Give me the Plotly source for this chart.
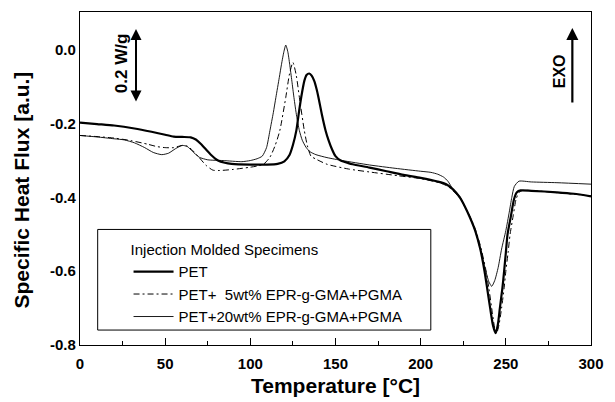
import plotly.graph_objects as go

# ---- data ----
temp_pet = [0, 10, 20, 32, 42, 50, 55, 60, 65, 68, 71, 74, 77, 81, 85, 89, 100, 110, 116, 120,
            123, 125, 127, 128.5, 130, 131.7, 133, 134.6, 136, 137.5, 139, 140, 142, 144.2, 146,
            148, 150, 153, 157, 160, 170, 180, 190, 200, 210, 215, 219, 223, 226, 229, 232, 235,
            237.5, 239, 240.8, 242.5, 244, 245.3, 246.5, 248, 249, 250, 251, 253, 254.8, 256.5,
            258.7, 265, 280, 290, 300]
flux_pet = [-0.197, -0.201, -0.205, -0.213, -0.222, -0.230, -0.235, -0.236, -0.237, -0.243,
            -0.255, -0.270, -0.285, -0.300, -0.306, -0.309, -0.311, -0.311, -0.309, -0.302,
            -0.285, -0.258, -0.219, -0.170, -0.125, -0.084, -0.068, -0.064, -0.070, -0.084,
            -0.108, -0.129, -0.175, -0.219, -0.246, -0.270, -0.288, -0.300, -0.306, -0.310,
            -0.319, -0.329, -0.339, -0.347, -0.357, -0.364, -0.378, -0.400, -0.425, -0.455,
            -0.490, -0.540, -0.600, -0.645, -0.700, -0.748, -0.768, -0.745, -0.700, -0.645,
            -0.600, -0.550, -0.500, -0.450, -0.405, -0.386, -0.381, -0.382, -0.386, -0.390,
            -0.397]

temp_5wt = [0, 10, 20, 30, 40, 45, 50, 55, 60, 63, 66, 70, 74, 78, 82, 90, 100, 105, 108, 111.5,
            114.5, 117.3, 120.8, 123, 125, 127, 128.8, 131.7, 133.5, 135.6, 138.5, 145, 157.7, 170,
            186.5, 200, 211, 216, 219, 223, 226, 229, 232, 235, 238, 240, 242, 243.5, 244.6, 246,
            247.5, 249, 250, 251.3, 252.5, 254.3, 256, 257.8, 260, 270, 280, 290, 300]
flux_5wt = [-0.232, -0.235, -0.239, -0.246, -0.256, -0.262, -0.265, -0.265, -0.259, -0.261,
            -0.272, -0.292, -0.313, -0.326, -0.327, -0.324, -0.318, -0.314, -0.309, -0.291,
            -0.260, -0.219, -0.129, -0.065, -0.034, -0.070, -0.129, -0.219, -0.260, -0.288,
            -0.296, -0.310, -0.323, -0.331, -0.341, -0.349, -0.360, -0.370, -0.382, -0.402,
            -0.425, -0.452, -0.485, -0.530, -0.590, -0.645, -0.710, -0.755, -0.768, -0.745,
            -0.700, -0.645, -0.600, -0.550, -0.500, -0.450, -0.405, -0.386, -0.381, -0.383,
            -0.387, -0.391, -0.396]

temp_20wt = [0, 10, 20, 26, 32, 38, 43, 48, 52, 56, 60, 63, 66, 70, 75, 84, 95, 100, 104, 107,
             109.5, 111.5, 113.5, 115, 117, 118.3, 119.7, 120.8, 122, 123.1, 124.4, 125.6, 127.2,
             128.8, 130.5, 132.7, 135, 138.5, 145, 154, 170, 185, 200, 206, 210, 213.5, 216, 219,
             223, 226, 229, 232, 235, 238, 240, 241.7, 243.5, 245.5, 247.5, 250, 252, 253.5, 255,
             257.7, 265, 280, 300]
flux_20wt = [-0.232, -0.236, -0.241, -0.244, -0.252, -0.265, -0.278, -0.284, -0.280, -0.268,
             -0.259, -0.262, -0.275, -0.291, -0.298, -0.300, -0.303, -0.300, -0.295, -0.288,
             -0.265, -0.219, -0.170, -0.129, -0.075, -0.039, -0.005, 0.013, -0.005, -0.039,
             -0.085, -0.129, -0.180, -0.219, -0.245, -0.264, -0.276, -0.284, -0.292, -0.300,
             -0.312, -0.321, -0.329, -0.332, -0.337, -0.345, -0.356, -0.378, -0.398, -0.425,
             -0.455, -0.490, -0.540, -0.595, -0.628, -0.641, -0.625, -0.590, -0.540, -0.490,
             -0.440, -0.400, -0.370, -0.356, -0.358, -0.360, -0.364]

series_names = ["PET", "PET+\u00a0\u00a05wt% EPR-g-GMA+PGMA", "PET+20wt% EPR-g-GMA+PGMA"]
x_ticks = [0, 50, 100, 150, 200, 250, 300]
y_ticks = [-0.8, -0.6, -0.4, -0.2, 0.0]
y_tick_labels = ["-0.8", "-0.6", "-0.4", "-0.2", "0.0"]

FONT = "Liberation Sans, Arial, sans-serif"

fig = go.Figure()
fig.add_trace(go.Scatter(x=temp_pet, y=flux_pet, mode="lines", name=series_names[0],
                         line=dict(color="black", width=2.2, shape="spline", smoothing=0.6)))
fig.add_trace(go.Scatter(x=temp_5wt, y=flux_5wt, mode="lines", name=series_names[1],
                         line=dict(color="black", width=1, dash="6px,3px,2px,3px",
                                   shape="spline", smoothing=0.6)))
fig.add_trace(go.Scatter(x=temp_20wt, y=flux_20wt, mode="lines", name=series_names[2],
                         line=dict(color="black", width=0.9, shape="spline", smoothing=0.6)))

fig.update_layout(
    width=615, height=402,
    margin=dict(l=80, r=15, t=11, b=57),
    paper_bgcolor="white", plot_bgcolor="white",
    font=dict(family=FONT, color="black"),
    showlegend=True,
    legend=dict(
        x=0.095, y=0.328, xanchor="left", yanchor="top",
        bgcolor="rgba(0,0,0,0)", borderwidth=0,
        font=dict(family=FONT, size=15, color="black"),
        title=dict(text="Injection Molded Specimens", font=dict(family=FONT, size=15)),
        itemwidth=40, tracegroupgap=0,
    ),
    xaxis=dict(
        range=[0, 300], tickvals=x_ticks, ticktext=[str(v) for v in x_ticks],
        ticks="inside", ticklen=7, tickwidth=1.2, tickcolor="black",
        minor=dict(dtick=25, tick0=0, ticks="inside", ticklen=4, tickwidth=1, tickcolor="black"),
        showline=True, linecolor="black", linewidth=1.3, mirror=True,
        showgrid=False, zeroline=False, ticklabelstandoff=5,
        tickfont=dict(family=FONT, size=15, weight="bold", color="black"),
    ),
    yaxis=dict(
        range=[-0.8, 0.1027], tickvals=y_ticks, ticktext=y_tick_labels,
        ticks="", showline=True, linecolor="black", linewidth=1.3, mirror=True,
        showgrid=False, zeroline=False,
        tickfont=dict(family=FONT, size=15, weight="bold", color="black"),
    ),
    shapes=[dict(type="rect", xref="paper", yref="paper", x0=0.0346, x1=0.6865,
                 y0=0.0449, y1=0.347, line=dict(color="black", width=1))],
    annotations=[
        dict(text="Temperature [°C]", xref="paper", yref="paper", x=0.5, y=-0.123,
             xanchor="center", yanchor="middle", showarrow=False,
             font=dict(family=FONT, size=21, weight="bold")),
        dict(text="Specific Heat Flux [a.u.]", xref="paper", yref="paper", x=-0.1154, y=0.464,
             xanchor="center", yanchor="middle", textangle=-90, showarrow=False,
             font=dict(family=FONT, size=21, weight="bold")),
        dict(text="", xref="paper", yref="paper", x=0.1096, y=0.949, ax=0, ay=74,
             showarrow=True, arrowhead=2, startarrowhead=2, arrowside="end+start",
             arrowsize=1.1, startarrowsize=1.1, arrowwidth=2, arrowcolor="black",
             standoff=0, startstandoff=0),
        dict(text="0.2 W/g", xref="paper", yref="paper", x=0.0827, y=0.847,
             xanchor="center", yanchor="middle", textangle=-90, showarrow=False,
             font=dict(family=FONT, size=17, weight="bold")),
        dict(text="", xref="paper", yref="paper", x=0.9635, y=0.952, ax=0, ay=76,
             showarrow=True, arrowhead=2, arrowsize=1.1, arrowwidth=2.2, arrowcolor="black",
             standoff=0),
        dict(text="EXO", xref="paper", yref="paper", x=0.940, y=0.823,
             xanchor="center", yanchor="middle", textangle=-90, showarrow=False,
             font=dict(family=FONT, size=16, weight="bold")),
    ],
)

fig.write_html("out.html")
